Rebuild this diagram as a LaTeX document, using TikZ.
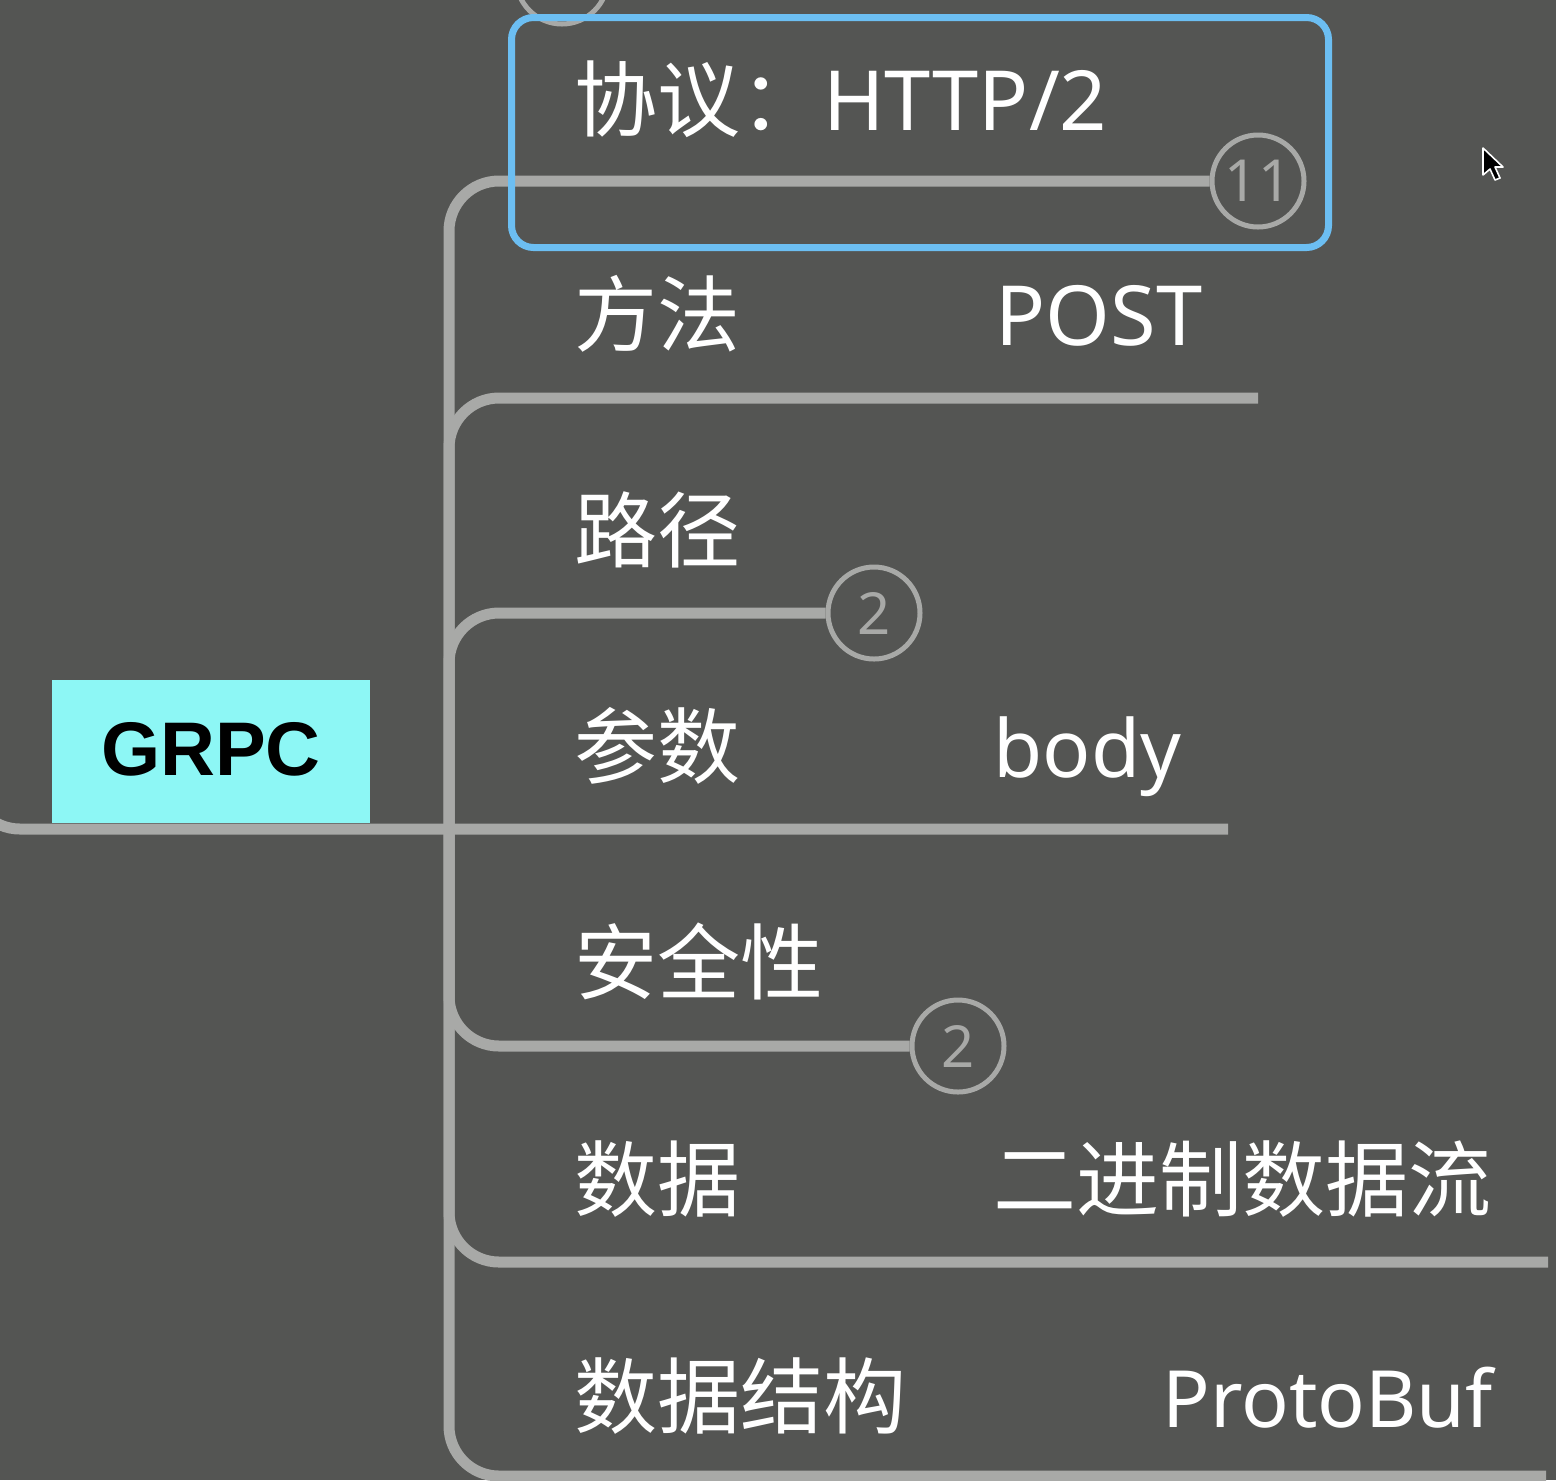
\documentclass[tikz,border=0pt]{standalone}
\usepackage{fontspec}
\setmainfont{Noto Sans}
\newfontfamily\cjk{Noto Sans CJK SC}
\newfontfamily\rootfont{Liberation Sans}
\definecolor{bgc}{HTML}{545553}
\definecolor{linec}{HTML}{A8A9A7}
\definecolor{selc}{HTML}{6CBEF2}
\definecolor{rootc}{HTML}{8DF7F5}
\begin{document}
\begin{tikzpicture}[x=0.5pt,y=-0.5pt,
  branch/.style={draw=linec, line width=5.5pt, rounded corners=25pt},
  numc/.style={circle, draw=linec, fill=bgc, line width=2.5pt, minimum size=46pt, inner sep=0pt, text=linec, font=\fontsize{29pt}{32pt}\selectfont},
  lbl/.style={anchor=base west, inner sep=0pt, text=white, font=\fontsize{41.5pt}{48pt}\selectfont},
  hl/.style={draw=selc, line width=3.5pt, rounded corners=11pt, minimum width=408.5pt, minimum height=115pt, inner sep=0pt},
  rootbox/.style={fill=rootc, minimum width=159pt, minimum height=71.5pt, inner sep=0pt},
  cursor/.style={fill=black, draw=white, line width=0.8pt, line join=round}]
\useasboundingbox (0,0) rectangle (1556,1480);
\fill[bgc] (0,0) rectangle (1556,1480);

% root
\node[rootbox] (root) at (211,751.5) {};
\node[anchor=base, inner sep=0pt, font=\rootfont\bfseries\fontsize{38pt}{44pt}\selectfont] (rootlbl) at (211,775) {GRPC};

% coordinates
\coordinate (src) at (-30,700);
\coordinate (hub) at (449,829);
\coordinate (e2) at (1258,398);
\coordinate (e4) at (1228,829);
\coordinate (e6) at (1548,1262);
\coordinate (e7) at (1546,1476);

% circles
\node[numc] (ctop) at (562,-22) {};
\node[numc] (c11) at (1258,181) {11};
\node[numc] (c3) at (874,613) {2};
\node[numc] (c5) at (958,1046) {2};

% branches
\draw[branch] (src) |- (e4);
\draw[branch] (hub) |- (c11.west);
\draw[branch] (hub) |- (e2);
\draw[branch] (hub) |- (c3.west);
\draw[branch] (hub) |- (c5.west);
\draw[branch] (hub) |- (e6);
\draw[branch] (hub) |- (e7);

% labels
\node[lbl] (t1) at (574,130) {{\cjk 协议：}HTTP/2};
\node[lbl] (t2) at (574,345) {\cjk 方法};
\node[lbl] (v2) at (995,345) {POST};
\node[lbl] (t3) at (574,561) {\cjk 路径};
\node[lbl] (t4) at (574,777) {\cjk 参数};
\node[lbl] (v4) at (993,777) {\fontsize{40pt}{48pt}\selectfont body};
\node[lbl] (t5) at (574,993) {\cjk 安全性};
\node[lbl] (t6) at (574,1210) {\cjk 数据};
\node[lbl] (v6) at (993,1210) {\cjk 二进制数据流};
\node[lbl] (t7) at (574,1427) {\cjk 数据结构};
\node[lbl] (v7) at (1162,1427) {\fontsize{39.5pt}{48pt}\selectfont ProtoBuf};

% selection box
\node[hl] (sel) at (920,132.5) {};

% mouse cursor
\draw[cursor] (1483,148) -- (1483,175) -- (1490,169) -- (1495,180) -- (1500,178) -- (1495,167) -- (1503,167) -- cycle;
\end{tikzpicture}
\end{document}
